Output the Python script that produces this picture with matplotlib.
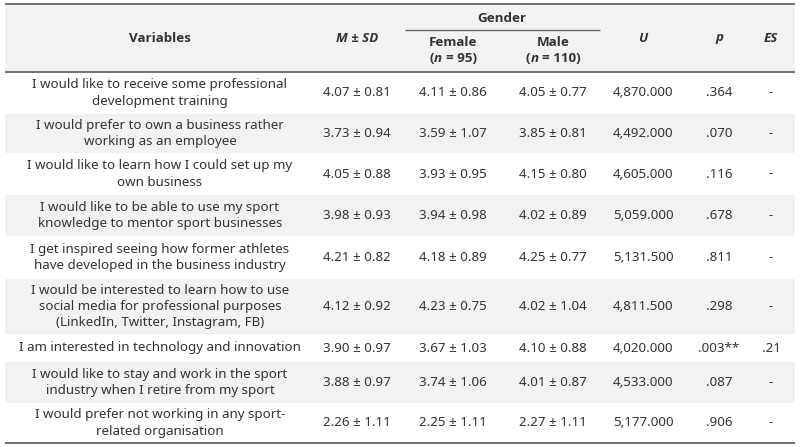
import matplotlib
matplotlib.use("Agg")
import matplotlib.pyplot as plt
from matplotlib.patches import Rectangle


# table content
variables = [
    "I would like to receive some professional\ndevelopment training",
    "I would prefer to own a business rather\nworking as an employee",
    "I would like to learn how I could set up my\nown business",
    "I would like to be able to use my sport\nknowledge to mentor sport businesses",
    "I get inspired seeing how former athletes\nhave developed in the business industry",
    "I would be interested to learn how to use\nsocial media for professional purposes\n(LinkedIn, Twitter, Instagram, FB)",
    "I am interested in technology and innovation",
    "I would like to stay and work in the sport\nindustry when I retire from my sport",
    "I would prefer not working in any sport-\nrelated organisation",
]
m_sd = ["4.07 ± 0.81", "3.73 ± 0.94", "4.05 ± 0.88", "3.98 ± 0.93", "4.21 ± 0.82",
        "4.12 ± 0.92", "3.90 ± 0.97", "3.88 ± 0.97", "2.26 ± 1.11"]
female = ["4.11 ± 0.86", "3.59 ± 1.07", "3.93 ± 0.95", "3.94 ± 0.98", "4.18 ± 0.89",
          "4.23 ± 0.75", "3.67 ± 1.03", "3.74 ± 1.06", "2.25 ± 1.11"]
male = ["4.05 ± 0.77", "3.85 ± 0.81", "4.15 ± 0.80", "4.02 ± 0.89", "4.25 ± 0.77",
        "4.02 ± 1.04", "4.10 ± 0.88", "4.01 ± 0.87", "2.27 ± 1.11"]
u_vals = ["4,870.000", "4,492.000", "4,605.000", "5,059.000", "5,131.500",
          "4,811.500", "4,020.000", "4,533.000", "5,177.000"]
p_vals = [".364", ".070", ".116", ".678", ".811", ".298", ".003**", ".087", ".906"]
es_vals = ["-", "-", "-", "-", "-", "-", ".21", "-", "-"]

# layout in pixels
W, H = 800, 447
x_left, x_right = 5, 795
col_x = [160, 357, 453, 553, 643, 719, 771]
row_edges = [72, 114, 153, 195, 236, 279, 334, 362, 403, 443]
top_y = 4
TXT = "#333333"
LINE = "#666666"
GRAY = "#f2f2f2"
FS = 9.6
HFS = 9.6
HEAD_FONT = ["Open Sans", "DejaVu Sans"]

plt.rcParams["font.family"] = ["Noto Sans", "DejaVu Sans"]

fig = plt.figure(figsize=(W / 100, H / 100), dpi=100)
ax = fig.add_axes([0, 0, 1, 1])
ax.set_xlim(0, W)
ax.set_ylim(H, 0)
ax.axis("off")

# backgrounds
ax.add_patch(Rectangle((x_left, top_y), x_right - x_left, row_edges[0] - top_y,
                       facecolor=GRAY, edgecolor="none"))
for i in range(len(variables)):
    if i % 2 == 1:
        y0, y1 = row_edges[i], row_edges[i + 1]
        ax.add_patch(Rectangle((x_left, y0), x_right - x_left, y1 - y0,
                               facecolor=GRAY, edgecolor="none"))

# rules
for y in (top_y, row_edges[0], row_edges[-1]):
    ax.plot([x_left, x_right], [y, y], color=LINE, lw=1.3, solid_capstyle="butt")
ax.plot([405, 600], [30, 30], color=LINE, lw=1.0, solid_capstyle="butt")

renderer = fig.canvas.get_renderer()


def head(x, y, s, style="normal"):
    return ax.text(x, y, s, fontsize=HFS, fontweight="bold", fontstyle=style,
                   family=HEAD_FONT, color=TXT, ha="center", va="center")


def draw_runs(x, y, runs):
    """Draw pieces of bold text (some italic) centred at x; each run has a gap after it."""
    texts = [head(0, y, s, style) for s, style, _ in runs]
    for t in texts:
        t.set_ha("left")
    widths = [t.get_window_extent(renderer).width for t in texts]
    gaps = [g for _, _, g in runs]
    total = sum(widths) + sum(gaps[:-1])
    cur = x - total / 2
    for t, w, g in zip(texts, widths, gaps):
        t.set_x(cur)
        cur += w + g


# header
hy = (top_y + row_edges[0]) / 2
head(col_x[0], hy, "Variables")
head(col_x[1], hy, "M ± SD", "italic")
head(502, 18, "Gender")
head(col_x[2], 43, "Female")
head(col_x[3], 43, "Male")
draw_runs(col_x[2], 58, [("(", "normal", 0.5), ("n", "italic", 3.5), ("= 95)", "normal", 0)])
draw_runs(col_x[3], 58, [("(", "normal", 0.5), ("n", "italic", 3.5), ("= 110)", "normal", 0)])
for j, lab in zip((4, 5, 6), ("U", "p", "ES")):
    head(col_x[j], hy, lab, "italic")

# body
for i in range(len(variables)):
    cy = (row_edges[i] + row_edges[i + 1]) / 2
    cells = [variables[i], m_sd[i], female[i], male[i], u_vals[i], p_vals[i], es_vals[i]]
    for j, s in enumerate(cells):
        ax.text(col_x[j], cy, s, fontsize=FS, color=TXT, ha="center", va="center",
                linespacing=1.33)

fig.savefig("out.png", dpi=100)
